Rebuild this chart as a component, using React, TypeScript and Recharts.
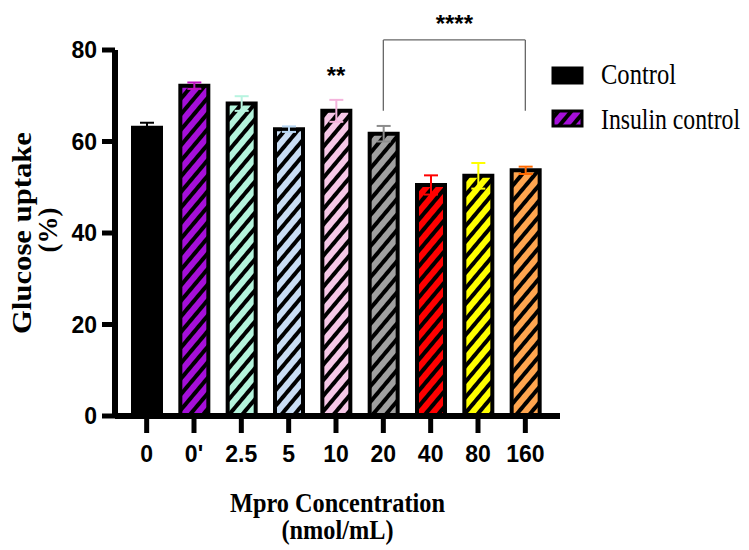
import React from "react";
import {
  BarChart,
  Bar,
  XAxis,
  YAxis,
  Cell,
  ErrorBar,
  Legend,
  ReferenceLine,
  ReferenceDot,
} from "recharts";

const CONCENTRATIONS = ["0", "0'", "2.5", "5", "10", "20", "40", "80", "160"];
const UPTAKE = [63.0, 72.2, 68.3, 62.7, 66.7, 61.7, 50.5, 52.5, 53.7];
const SEM = [1.1, 0.7, 1.6, 0.6, 2.4, 1.7, 2.1, 2.8, 0.8];
const BAR_COLORS = [
  "#000000",
  "#a50fd9",
  "#b4f4dc",
  "#c9ddf4",
  "#f6c8e7",
  "#a0a0a0",
  "#ff0000",
  "#ffff00",
  "#ffa54f",
];
const ERR_COLORS = [
  "#000000",
  "#c010c0",
  "#b8f4e0",
  "#b8d6f2",
  "#f4b4dc",
  "#8c8c8c",
  "#ff0000",
  "#ffff00",
  "#ff6a00",
];
const Y_TICKS = [0, 20, 40, 60, 80];

// significance: "**" over 10, bracket 20..160 with "****"
const SINGLE_STAR = { at: "10", level: 74.4, text: "**" };
const BRACKET = { from: "20", to: "160", top: 82.2, foot: 66.7, text: "****" };

const LEGEND_ITEMS = [
  { label: "Control", color: 0, hatched: false },
  { label: "Insulin control", color: 1, hatched: true },
];

const data = CONCENTRATIONS.map((name, i) => ({
  name,
  uptake: UPTAKE[i],
  [`err${i}`]: SEM[i],
}));

const SANS = "'Liberation Sans', Arial, sans-serif";
const SERIF = "'Liberation Serif', 'Times New Roman', serif";

const XTitle = (props: any) => {
  const { viewBox } = props;
  const cx = viewBox.x + viewBox.width / 2;
  return (
    <g fontFamily={SERIF} fontWeight={700} fontSize={28} fill="#000">
      <text
        x={cx}
        y={viewBox.y + 96}
        textAnchor="middle"
        textLength={215}
        lengthAdjust="spacingAndGlyphs"
      >
        Mpro Concentration
      </text>
      <text
        x={cx}
        y={viewBox.y + 123}
        textAnchor="middle"
        textLength={112}
        lengthAdjust="spacingAndGlyphs"
      >
        (nmol/mL)
      </text>
    </g>
  );
};

const YTitle = (props: any) => {
  const { viewBox } = props;
  const cy = viewBox.y + viewBox.height / 2;
  return (
    <g fontFamily={SERIF} fontWeight={700} fontSize={27} fill="#000">
      <text
        x={31}
        y={cy}
        transform={`rotate(-90, 31, ${cy})`}
        textAnchor="middle"
        textLength={202}
        lengthAdjust="spacingAndGlyphs"
      >
        Glucose uptake
      </text>
      <text
        x={57}
        y={cy - 3}
        transform={`rotate(-90, 57, ${cy - 3})`}
        textAnchor="middle"
      >
        (%)
      </text>
    </g>
  );
};

const LegendBox = () => (
  <svg width={199} height={85}>
    {LEGEND_ITEMS.map((item, i) => (
      <g key={item.label}>
        <rect
          x={4}
          y={11 + i * 43}
          width={29}
          height={15}
          fill={item.hatched ? `url(#hatch-${item.color})` : BAR_COLORS[item.color]}
          stroke="#000"
          strokeWidth={3}
        />
        <text
          x={52}
          y={27 + i * 45}
          fontFamily={SERIF}
          fontSize={29}
          fill="#000"
          textLength={i === 0 ? 75 : 139}
          lengthAdjust="spacingAndGlyphs"
        >
          {item.label}
        </text>
      </g>
    ))}
  </svg>
);

const tickStyle = { fill: "#000", fontSize: 23, fontWeight: 700, fontFamily: SANS };

export default function App() {
  return (
    <div
      style={{
        position: "absolute",
        left: 0,
        top: 0,
        width: 749,
        height: 550,
        background: "#fff",
      }}
    >
      <BarChart
        width={749}
        height={550}
        data={data}
        margin={{ top: 50, right: 189, bottom: 0, left: 0 }}
      >
        <defs>
          {BAR_COLORS.map((c, i) => (
            <pattern
              key={c + i}
              id={`hatch-${i}`}
              patternUnits="userSpaceOnUse"
              width={10}
              height={10}
              patternTransform="rotate(40)"
            >
              <rect width={10} height={10} fill={c} />
              <rect width={4} height={10} fill="#000" />
            </pattern>
          ))}
        </defs>
        <XAxis
          dataKey="name"
          height={134}
          padding={{ left: 8, right: 11 }}
          axisLine={{ stroke: "#000", strokeWidth: 6 }}
          tickLine={{ stroke: "#000", strokeWidth: 5 }}
          tickSize={17}
          tickMargin={13}
          tick={tickStyle}
          interval={0}
          label={<XTitle />}
        />
        <YAxis
          type="number"
          domain={[0, 80]}
          ticks={Y_TICKS}
          width={115}
          axisLine={{ stroke: "#000", strokeWidth: 6 }}
          tickLine={{ stroke: "#000", strokeWidth: 5 }}
          tickSize={13}
          tickMargin={5}
          tick={tickStyle}
          label={<YTitle />}
        />
        <Legend
          layout="vertical"
          align="center"
          verticalAlign="middle"
          content={() => <LegendBox />}
          wrapperStyle={{ position: "absolute", left: 549, top: 57, width: 199, height: 85 }}
        />
        <Bar
          dataKey="uptake"
          barSize={28}
          stroke="#000"
          strokeWidth={4}
          isAnimationActive={false}
        >
          {data.map((d, i) => (
            <Cell
              key={d.name}
              fill={i === 0 ? BAR_COLORS[0] : `url(#hatch-${i})`}
            />
          ))}
          {CONCENTRATIONS.map((c, i) => (
            <ErrorBar
              key={c}
              dataKey={`err${i}`}
              direction="y"
              width={7}
              stroke={ERR_COLORS[i]}
              strokeWidth={2}
              isAnimationActive={false}
            />
          ))}
        </Bar>
        <ReferenceLine
          segment={[
            { x: BRACKET.from, y: BRACKET.foot },
            { x: BRACKET.from, y: BRACKET.top },
          ]}
          stroke="#666"
          strokeWidth={1.3}
          ifOverflow="visible"
        />
        <ReferenceLine
          segment={[
            { x: BRACKET.to, y: BRACKET.foot },
            { x: BRACKET.to, y: BRACKET.top },
          ]}
          stroke="#666"
          strokeWidth={1.3}
          ifOverflow="visible"
        />
        <ReferenceLine
          segment={[
            { x: BRACKET.from, y: BRACKET.top },
            { x: BRACKET.to, y: BRACKET.top },
          ]}
          stroke="#666"
          strokeWidth={1.3}
          ifOverflow="visible"
          label={{
            value: BRACKET.text,
            position: "top",
            offset: 8,
            fontSize: 24,
            fontWeight: 700,
            fill: "#000",
            fontFamily: SANS,
          }}
        />
        <ReferenceDot
          x={SINGLE_STAR.at}
          y={SINGLE_STAR.level}
          r={0}
          ifOverflow="visible"
          label={{
            value: SINGLE_STAR.text,
            position: "center",
            fontSize: 24,
            fontWeight: 700,
            fill: "#000",
            fontFamily: SANS,
          }}
        />
      </BarChart>
    </div>
  );
}
